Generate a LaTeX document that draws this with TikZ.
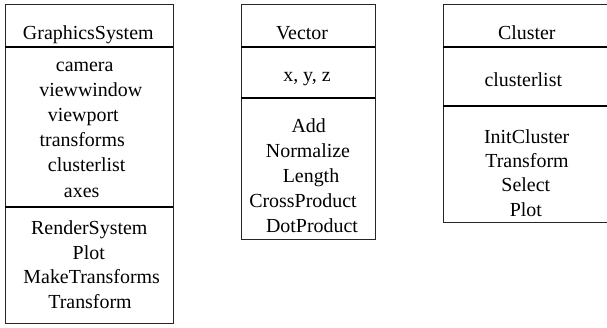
\documentclass[tikz,border=0pt]{standalone}
\usepackage{fontspec}
\setmainfont{Liberation Serif}
\begin{document}
\begin{tikzpicture}[x=1bp,y=-1bp,
  txt/.style={anchor=base,inner sep=0pt,font=\fontsize{20}{24}\selectfont},
  frame/.style={draw=black!85,line width=0.9bp},
  divider/.style={draw=black,line width=1.6bp}]
\useasboundingbox (0,0) rectangle (607,327);
% boxes
\draw[frame] (5,4) rectangle (173,323);
\draw[frame] (241,4) rectangle (375,239);
\draw[frame] (443,4) rectangle (609,222);
% dividers
\coordinate (a1l) at (5,47);   \coordinate (a1r) at (173,47);
\coordinate (a2l) at (5,207);  \coordinate (a2r) at (173,207);
\coordinate (b1l) at (241,47); \coordinate (b1r) at (375,47);
\coordinate (b2l) at (241,98); \coordinate (b2r) at (375,98);
\coordinate (c1l) at (443,47); \coordinate (c1r) at (609,47);
\coordinate (c2l) at (443,106);\coordinate (c2r) at (609,106);
\draw[divider] (a1l) -- (a1r);
\draw[divider] (a2l) -- (a2r);
\draw[divider] (b1l) -- (b1r);
\draw[divider] (b2l) -- (b2r);
\draw[divider] (c1l) -- (c1r);
\draw[divider] (c2l) -- (c2r);
% GraphicsSystem
\node[txt] (gst) at (88.3,39.5) {GraphicsSystem};
\node[txt] (ga1) at (84.7,71) {camera};
\node[txt] (ga2) at (90.8,96.2) {viewwindow};
\node[txt] (ga3) at (83.3,121.4) {viewport};
\node[txt] (ga4) at (82.2,146.6) {transforms};
\node[txt] (ga5) at (86.7,171.8) {clusterlist};
\node[txt] (ga6) at (81.7,197) {axes};
\node[txt] (gm1) at (89.3,234.5) {RenderSystem};
\node[txt] (gm2) at (88.8,259) {Plot};
\node[txt] (gm3) at (91.7,283.5) {MakeTransforms};
\node[txt] (gm4) at (90,308) {Transform};
% Vector
\node[txt] (vt) at (302,39.5) {Vector};
\node[txt] (va1) at (307,81.7) {x, y, z};
\node[txt] (vm1) at (308.7,132) {Add};
\node[txt] (vm2) at (308,157) {Normalize};
\node[txt] (vm3) at (311,182) {Length};
\node[txt] (vm4) at (303,207) {CrossProduct};
\node[txt] (vm5) at (312,232) {DotProduct};
% Cluster
\node[txt] (ct) at (526.8,39.5) {Cluster};
\node[txt] (ca1) at (523.3,86.7) {clusterlist};
\node[txt] (cm1) at (526.7,143) {InitCluster};
\node[txt] (cm2) at (527,167.5) {Transform};
\node[txt] (cm3) at (525.8,191.5) {Select};
\node[txt] (cm4) at (525.8,216) {Plot};
\end{tikzpicture}
\end{document}
